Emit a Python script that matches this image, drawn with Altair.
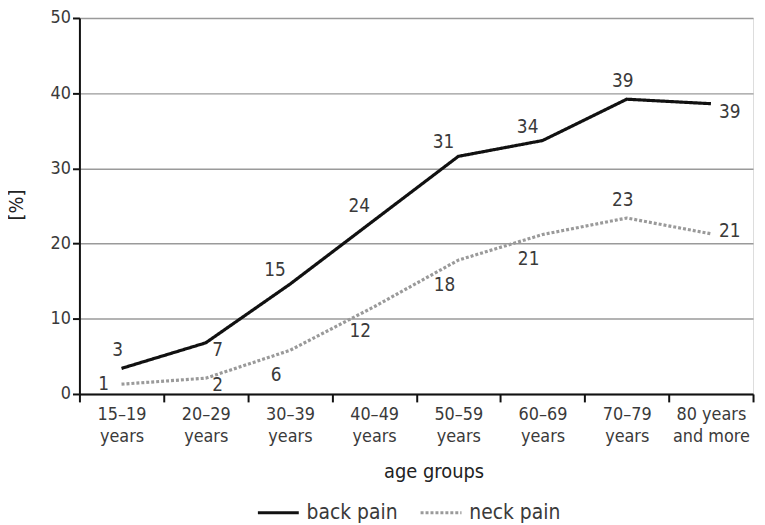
import altair as alt
import pandas as pd

categories = ["15–19 years", "20–29 years", "30–39 years", "40–49 years",
              "50–59 years", "60–69 years", "70–79 years", "80 years and more"]
series_names = ["back pain", "neck pain"]
back_pain = [3.4, 6.8, 14.6, 23.1, 31.6, 33.7, 39.2, 38.6]
neck_pain = [1.3, 2.1, 5.8, 11.6, 17.8, 21.2, 23.4, 21.3]
back_labels = ["3", "7", "15", "24", "31", "34", "39", "39"]
neck_labels = ["1", "2", "6", "12", "18", "21", "23", "21"]
back_place = ["above", "below-right", "above-left", "above-left", "above-left", "above-left", "above", "right-low"]
neck_place = ["left", "below-right", "below-left", "below-left", "below-left", "below-left", "above", "right"]

rows = []
for i, c in enumerate(categories):
    rows.append({"age": c, "series": series_names[0], "value": back_pain[i],
                 "label": back_labels[i], "place": back_place[i]})
for i, c in enumerate(categories):
    rows.append({"age": c, "series": series_names[1], "value": neck_pain[i],
                 "label": neck_labels[i], "place": neck_place[i]})
df = pd.DataFrame(rows)

FONT = "'DejaVu Sans Condensed', Lato, sans-serif"
TXT = "#3a3a3a"

x_enc = alt.X(
    "age:N", sort=categories,
    scale=alt.Scale(type="band", paddingInner=0, paddingOuter=0),
    axis=alt.Axis(
        title="age groups", tickBand="extent", labelAngle=0,
        labelExpr="isValid(datum.value) ? (datum.value == '80 years and more' ? ['80 years', 'and more'] : split(datum.value, ' ')) : ''",
        labelFontSize=18, labelFont=FONT, labelColor=TXT, labelPadding=4,
        labelLineHeight=22,
        titleFontSize=20, titleFont=FONT, titleColor="#222", titleFontWeight="normal",
        titleX=357, titleY=68,
        tickSize=8, tickColor="#111", tickWidth=2,
        domainColor="#111", domainWidth=2, grid=False,
    ),
)
y_enc = alt.Y(
    "value:Q",
    scale=alt.Scale(domain=[0, 50]),
    axis=alt.Axis(
        title="[%]", values=[0, 10, 20, 30, 40, 50],
        labelFontSize=18, labelFont=FONT, labelColor=TXT, labelPadding=2,
        titleFontSize=20, titleFont=FONT, titleColor="#222", titleFontWeight="normal",
        titleX=-63, titleY=188, titleAngle=-90, titleBaseline="middle",
        tickSize=7, tickColor="#111", tickWidth=2,
        domainColor="#111", domainWidth=2,
        grid=True, gridColor="#9a9a9a", gridWidth=1.5,
    ),
)

legend = alt.Legend(
    title=None, orient="none", direction="horizontal",
    legendX=178, legendY=476,
    symbolType="stroke", symbolStrokeWidth=3.2, symbolSize=1700,
    labelFontSize=21, labelFont=FONT, labelColor=TXT,
    columnPadding=16, labelOffset=6,
)

lines = alt.Chart(df).mark_line(strokeWidth=3.2).encode(
    x=x_enc,
    y=y_enc,
    color=alt.Color("series:N", scale=alt.Scale(domain=series_names, range=["#111111", "#9a9a9a"]),
                    legend=legend),
    strokeDash=alt.StrokeDash("series:N", scale=alt.Scale(domain=series_names, range=[[1, 0], [3, 2]]),
                              legend=legend),
)

offsets = {
    "above": (-4, -18),
    "above-left": (-15, -14),
    "below-left": (-14, 25),
    "below-right": (12, 7),
    "right": (19, -3),
    "right-low": (19, 8),
    "left": (-18, 0),
}
text_layers = []
for p, (dx, dy) in offsets.items():
    text_layers.append(
        alt.Chart(df).transform_filter(alt.datum.place == p).mark_text(
            dx=dx, dy=dy, fontSize=19, font=FONT, color=TXT, baseline="middle", align="center"
        ).encode(x=alt.X("age:N", sort=categories), y="value:Q", text="label:N")
    )

chart = alt.layer(lines, *text_layers).properties(
    width=679, height=379,
    autosize=alt.AutoSizeParams(type="none"),
    padding={"left": 72, "top": 8, "right": 4, "bottom": 128},
).configure_view(stroke="#111", strokeWidth=2).configure(background="white")

chart.save("out.html", embed_options={"renderer": "svg", "actions": False})
